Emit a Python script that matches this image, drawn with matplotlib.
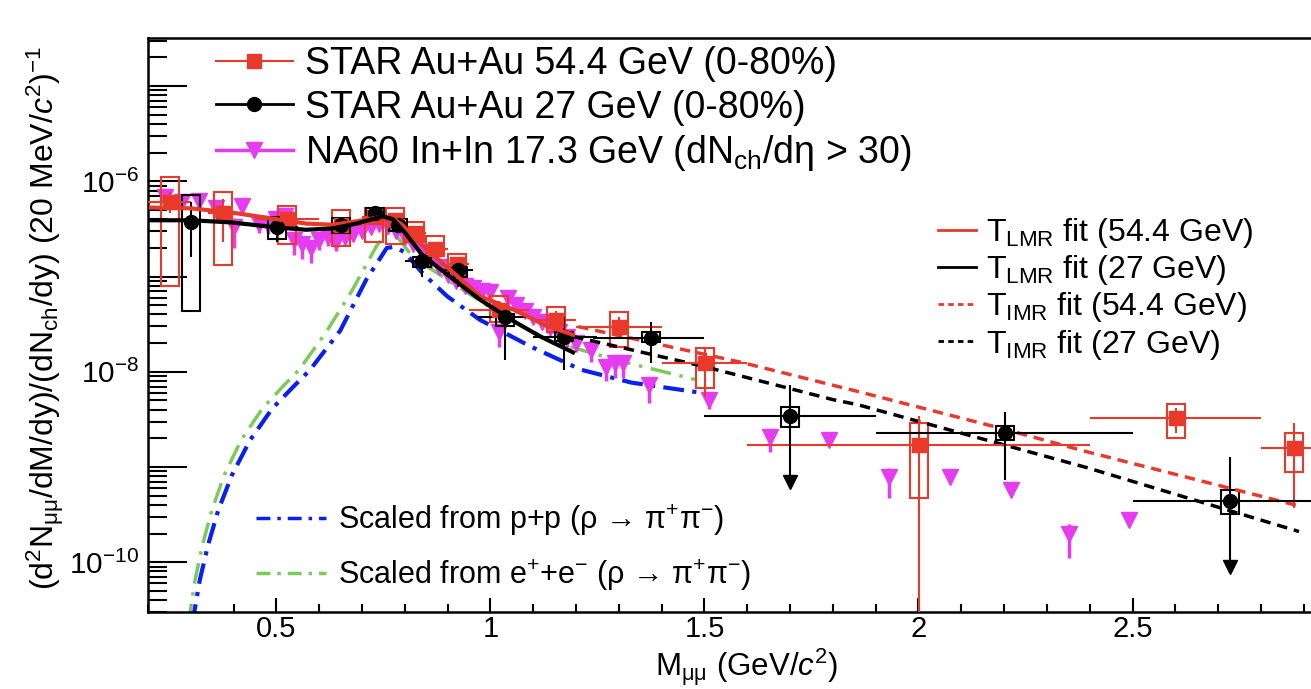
import numpy as np
import matplotlib
matplotlib.use("Agg")
import matplotlib.pyplot as plt
from matplotlib.patches import Rectangle
from matplotlib.lines import Line2D
from matplotlib.ticker import FixedLocator, FuncFormatter, NullFormatter, MultipleLocator

plt.rcParams['font.family'] = ['Liberation Sans', 'DejaVu Sans']
plt.rcParams['mathtext.fontset'] = 'custom'
plt.rcParams['mathtext.rm'] = 'Liberation Sans'
plt.rcParams['mathtext.it'] = 'Liberation Sans:italic'
plt.rcParams['mathtext.bf'] = 'Liberation Sans:bold'
plt.rcParams['mathtext.sf'] = 'Liberation Sans'
plt.rcParams['mathtext.default'] = 'rm'

RED = '#e8392b'
BLACK = '#000000'
MAG = '#e53cf0'
BLUE = '#0a20f0'
GREEN = '#7acb5a'

# ---------------- data ----------------
# STAR Au+Au 54.4 GeV (0-80%)
s54_m = [0.252, 0.376, 0.525, 0.652, 0.727, 0.776, 0.824, 0.871, 0.922, 1.019, 1.153, 1.300, 1.501, 2.002, 2.602, 2.878]
s54_y = [6.0e-7, 4.7e-7, 4.0e-7, 3.5e-7, 4.2e-7, 3.9e-7, 2.9e-7, 1.97e-7, 1.34e-7, 4.5e-8, 3.5e-8, 2.98e-8, 1.24e-8, 1.7e-9, 3.3e-9, 1.58e-9]
s54_stat_lo = [4.6e-7, 2.3e-7, 3.3e-7, 3.0e-7, 3.7e-7, 3.4e-7, 2.5e-7, 1.7e-7, 1.12e-7, 3.6e-8, 2.8e-8, 2.35e-8, 5.4e-9, 1e-13, 2.3e-9, 3.7e-10]
s54_stat_hi = [7.8e-7, 6.5e-7, 4.8e-7, 4.0e-7, 4.8e-7, 4.4e-7, 3.3e-7, 2.3e-7, 1.6e-7, 5.6e-8, 4.3e-8, 3.8e-8, 1.83e-8, 3.4e-9, 4.2e-9, 2.9e-9]
s54_bin_lo = [0.20, 0.34, 0.45, 0.60, 0.70, 0.75, 0.80, 0.85, 0.90, 0.95, 1.10, 1.20, 1.40, 1.60, 2.40, 2.80]
s54_bin_hi = [0.30, 0.42, 0.60, 0.70, 0.75, 0.80, 0.85, 0.90, 0.95, 1.09, 1.20, 1.40, 1.60, 2.40, 2.80, 3.00]
s54_sys_lo = [7.9e-8, 1.31e-7, 2.2e-7, 2.1e-7, 2.3e-7, 2.2e-7, 2.33e-7, 1.63e-7, 1.0e-7, 3.36e-8, 2.6e-8, 1.8e-8, 6.8e-9, 4.7e-10, 2.0e-9, 8.9e-10]
s54_sys_hi = [1.10e-6, 7.7e-7, 5.5e-7, 5.0e-7, 5.3e-7, 5.2e-7, 3.7e-7, 2.64e-7, 1.71e-7, 6.2e-8, 4.8e-8, 4.2e-8, 1.79e-8, 2.9e-9, 4.6e-9, 2.28e-9]

# STAR Au+Au 27 GeV (0-80%)
s27_m = [0.301, 0.501, 0.652, 0.731, 0.783, 0.840, 0.925, 1.033, 1.172, 1.376, 1.700, 2.202, 2.727]
s27_y = [3.7e-7, 3.28e-7, 3.44e-7, 4.6e-7, 3.5e-7, 1.44e-7, 1.16e-7, 3.8e-8, 2.33e-8, 2.28e-8, 3.44e-9, 2.28e-9, 4.4e-10]
s27_stat_lo = [1.6e-7, 2.3e-7, 2.9e-7, 4.1e-7, 3.0e-7, 9.8e-8, 7.7e-8, 1.34e-8, 1.05e-8, 1.24e-8, 7.0e-10, 7.3e-10, 8.9e-11]
s27_stat_hi = [6.0e-7, 4.3e-7, 4.0e-7, 5.2e-7, 4.0e-7, 1.7e-7, 1.44e-7, 5.3e-8, 3.8e-8, 3.3e-8, 7.3e-9, 3.8e-9, 1.28e-9]
s27_bin_lo = [0.301, 0.46, 0.652, 0.731, 0.76, 0.80, 0.89, 0.97, 1.10, 1.24, 1.50, 1.90, 2.50]
s27_bin_hi = [0.301, 0.55, 0.652, 0.731, 0.80, 0.86, 0.96, 1.09, 1.25, 1.50, 1.90, 2.50, 3.00]
s27_sys_lo = [4.3e-8, 2.45e-7, 2.9e-7, 4.0e-7, 3.0e-7, 1.27e-7, 1.0e-7, 3.06e-8, 2.1e-8, 2.03e-8, 2.6e-9, 1.9e-9, 3.2e-10]
s27_sys_hi = [7.1e-7, 4.2e-7, 4.1e-7, 5.2e-7, 4.0e-7, 1.6e-7, 1.27e-7, 4.0e-8, 2.6e-8, 2.6e-8, 4.3e-9, 2.7e-9, 5.7e-10]
s27_upper_limit = [False, False, False, False, False, False, False, False, False, False, True, False, True]

# NA60 In+In 17.3 GeV (dNch/deta > 30)
na60_m = [0.24, 0.28, 0.32, 0.36, 0.40, 0.42, 0.46, 0.48, 0.50, 0.52, 0.54, 0.56, 0.58, 0.60, 0.62,
          0.64, 0.66, 0.68, 0.70, 0.72, 0.74, 0.76, 0.78, 0.80, 0.82, 0.84, 0.86, 0.88, 0.90, 0.92,
          0.94, 0.96, 0.98, 1.00, 1.02, 1.04, 1.06, 1.08, 1.10, 1.12, 1.14, 1.16, 1.18, 1.20, 1.235,
          1.27, 1.29, 1.31, 1.37, 1.51, 1.654, 1.791, 1.932, 2.073, 2.216, 2.351, 2.492]
na60_y = [6.9e-7, 6.0e-7, 6.2e-7, 5.2e-7, 3.3e-7, 5.5e-7, 3.6e-7, 3.5e-7, 4.0e-7, 4.3e-7, 2.4e-7, 2.2e-7, 2.0e-7, 2.4e-7, 2.6e-7,
          2.3e-7, 2.6e-7, 2.8e-7, 3.0e-7, 3.3e-7, 3.6e-7, 3.4e-7, 3.0e-7, 2.6e-7, 2.2e-7, 1.8e-7, 1.5e-7, 1.25e-7, 1.05e-7, 9.0e-8,
          8.0e-8, 7.5e-8, 7.0e-8, 6.8e-8, 2.6e-8, 6.0e-8, 5.0e-8, 4.3e-8, 3.8e-8, 3.3e-8, 2.9e-8, 2.6e-8, 2.3e-8, 2.0e-8, 1.7e-8,
          1.13e-8, 1.24e-8, 1.24e-8, 7.3e-9, 5.1e-9, 2.07e-9, 1.92e-9, 7.9e-10, 7.9e-10, 5.7e-10, 2.0e-10, 2.8e-10]
na60_relerr = [0.15, 0.15, 0.2, 0.2, 0.4, 0.2, 0.2, 0.2, 0.15, 0.15, 0.3, 0.3, 0.3, 0.2, 0.2,
               0.2, 0.15, 0.15, 0.1, 0.1, 0.1, 0.1, 0.1, 0.1, 0.1, 0.1, 0.1, 0.1, 0.1, 0.1,
               0.1, 0.1, 0.1, 0.1, 0.3, 0.1, 0.1, 0.1, 0.15, 0.15, 0.15, 0.2, 0.2, 0.2, 0.25,
               0.3, 0.3, 0.3, 0.35, 0.2, 0.3, 0.1, 0.4, 0.1, 0.1, 0.45, 0.1]

# fits
lmr54_m = [0.207, 0.301, 0.395, 0.501, 0.569, 0.631, 0.687, 0.741, 0.772, 0.795, 0.819, 0.859, 0.913, 0.976, 1.054, 1.134, 1.193]
lmr54_y = [5.3e-7, 5.2e-7, 4.7e-7, 4.0e-7, 3.6e-7, 3.5e-7, 3.8e-7, 4.2e-7, 4.1e-7, 3.45e-7, 2.64e-7, 1.8e-7, 1.1e-7, 6.2e-8, 4.5e-8, 3.0e-8, 2.45e-8]
lmr27_m = [0.207, 0.301, 0.395, 0.501, 0.569, 0.631, 0.687, 0.748, 0.772, 0.800, 0.840, 0.899, 0.976, 1.054, 1.118, 1.193]
lmr27_y = [3.9e-7, 3.9e-7, 3.7e-7, 3.28e-7, 3.1e-7, 3.2e-7, 3.6e-7, 4.3e-7, 4.0e-7, 2.9e-7, 1.7e-7, 1.05e-7, 5.7e-8, 3.4e-8, 2.33e-8, 1.6e-8]
imr54_m = [1.205, 1.588, 1.859, 2.200, 2.395, 2.889]
imr54_y = [2.98e-8, 1.25e-8, 6.2e-9, 2.5e-9, 1.44e-9, 3.9e-10]
imr27_m = [1.193, 1.494, 1.800, 1.859, 2.395, 2.889]
imr27_y = [2.35e-8, 1.15e-8, 5.1e-9, 4.5e-9, 9.8e-10, 2.1e-10]

# scaled rho contributions
pp_m = [0.303, 0.321, 0.340, 0.364, 0.396, 0.438, 0.490, 0.540, 0.578, 0.649, 0.710, 0.758, 0.775, 0.800, 0.840, 0.899, 0.976, 1.094, 1.212, 1.329, 1.494]
pp_y = [2.2e-11, 6.5e-11, 1.5e-10, 3.5e-10, 8.2e-10, 1.9e-9, 4.1e-9, 7.0e-9, 1.04e-8, 2.7e-8, 9.3e-8, 2.0e-7, 2.05e-7, 1.8e-7, 1.1e-7, 6.2e-8, 3.5e-8, 1.84e-8, 1.05e-8, 7.7e-9, 6.0e-9]
ee_m = [0.294, 0.310, 0.327, 0.349, 0.378, 0.417, 0.467, 0.515, 0.553, 0.616, 0.678, 0.734, 0.760, 0.780, 0.819, 0.899, 1.017, 1.134, 1.290, 1.478]
ee_y = [2.2e-11, 6.5e-11, 1.5e-10, 3.5e-10, 8.2e-10, 1.9e-9, 4.1e-9, 7.0e-9, 1.05e-8, 2.6e-8, 7.3e-8, 2.1e-7, 2.9e-7, 2.7e-7, 1.6e-7, 9.3e-8, 4.2e-8, 2.15e-8, 1.34e-8, 8.3e-9]

x_ticks = [0.5, 1.0, 1.5, 2.0, 2.5]
x_ticklabels = ['0.5', '1', '1.5', '2', '2.5']

# ---------------- figure ----------------
W, H = 1311, 689
fig = plt.figure(figsize=(W / 100, H / 100), dpi=100)
L, R, T, B = 148, 1311, 38, 612
ax = fig.add_axes([L / W, 1 - B / H, (R - L) / W, (B - T) / H])
ax.set_yscale('log')
ax.set_xlim(0.2, 2.917)
ax.set_ylim(3.0e-11, 3.2e-5)

for s in ['left', 'bottom', 'top']:
    ax.spines[s].set_linewidth(1.8)
ax.spines['right'].set_visible(False)

ax.xaxis.set_major_locator(FixedLocator(x_ticks))
ax.xaxis.set_major_formatter(FuncFormatter(lambda v, p: x_ticklabels[x_ticks.index(round(v, 2))] if round(v, 2) in x_ticks else ''))
ax.xaxis.set_minor_locator(MultipleLocator(0.1))
decades = [10.0 ** e for e in range(-11, -3)]
ax.yaxis.set_major_locator(FixedLocator(decades))
def yfmt(v, p):
    e = int(round(np.log10(v)))
    return r'$10^{%d}$' % e if e % 2 == 0 else ''
ax.yaxis.set_major_formatter(FuncFormatter(yfmt))
ax.yaxis.set_minor_locator(FixedLocator([k * 10.0 ** e for e in range(-11, -4) for k in range(2, 10)]))
ax.yaxis.set_minor_formatter(NullFormatter())
ax.tick_params(axis='x', which='major', direction='in', length=10, width=1.5, labelsize=21, pad=2, top=False)
ax.tick_params(axis='x', which='minor', direction='in', length=5.5, width=1.5, top=False)
ax.tick_params(axis='y', which='major', direction='in', length=28, width=1.5, labelsize=21.5, pad=6, right=False)
ax.tick_params(axis='y', which='minor', direction='in', length=14, width=1.5, right=False)

# scaled rho curves
ax.plot(ee_m, ee_y, color=GREEN, lw=2.5, dashes=(6, 2.5, 1, 2.5), zorder=2)
ax.plot(pp_m, pp_y, color=BLUE, lw=3, dashes=(5, 2, 1, 2), zorder=2)

# NA60
na60_err = [np.array(na60_y) * np.array(na60_relerr), np.array(na60_y) * np.array(na60_relerr) * 0.6]
ax.errorbar(na60_m, na60_y, yerr=na60_err, fmt='v', color=MAG, ms=11, elinewidth=2.5, capsize=0, zorder=3)

# systematic boxes
BOX_W = 0.042
for m, lo, hi in zip(s54_m, s54_sys_lo, s54_sys_hi):
    ax.add_patch(Rectangle((m - BOX_W / 2, lo), BOX_W, hi - lo, fill=False, ec=RED, lw=1.5, zorder=4))
for m, lo, hi in zip(s27_m, s27_sys_lo, s27_sys_hi):
    ax.add_patch(Rectangle((m - BOX_W / 2, lo), BOX_W, hi - lo, fill=False, ec=BLACK, lw=1.5, zorder=4))

# STAR 54.4
s54m = np.array(s54_m); s54y = np.array(s54_y)
ax.errorbar(s54m, s54y,
            xerr=[s54m - np.array(s54_bin_lo), np.array(s54_bin_hi) - s54m],
            yerr=[s54y - np.array(s54_stat_lo), np.array(s54_stat_hi) - s54y],
            fmt='s', color=RED, ms=10, elinewidth=1.5, capsize=0, zorder=6)
# STAR 27
s27m = np.array(s27_m); s27y = np.array(s27_y)
ax.errorbar(s27m, s27y,
            xerr=[s27m - np.array(s27_bin_lo), np.array(s27_bin_hi) - s27m],
            yerr=[s27y - np.array(s27_stat_lo), np.array(s27_stat_hi) - s27y],
            fmt='o', color=BLACK, ms=10, elinewidth=1.5, capsize=0, zorder=6)
ul = np.array(s27_upper_limit)
ax.plot(s27m[ul], np.array(s27_stat_lo)[ul], 'v', color=BLACK, ms=10, zorder=6)

# fits
ax.plot(lmr54_m, lmr54_y, color=RED, lw=3, zorder=7)
ax.plot(lmr27_m, lmr27_y, color=BLACK, lw=3, zorder=7)
ax.plot(imr54_m, imr54_y, color=RED, lw=2.5, dashes=(3, 2), zorder=5)
ax.plot(imr27_m, imr27_y, color=BLACK, lw=2.5, dashes=(3, 2), zorder=5)

# legends
h1 = [Line2D([0], [0], color=RED, lw=1.5, marker='s', ms=10),
      Line2D([0], [0], color=BLACK, lw=2, marker='o', ms=10),
      Line2D([0], [0], color=MAG, lw=2.5, marker='v', ms=11)]
l1 = ax.legend(h1, ['STAR Au+Au 54.4 GeV (0-80%)', 'STAR Au+Au 27 GeV (0-80%)',
                    r'NA60 In+In 17.3 GeV (dN$_{\rm ch}$/d$\eta$ > 30)'],
               loc='upper left', bbox_to_anchor=(216 / W, 1 - 46 / H), bbox_transform=fig.transFigure,
               frameon=False, fontsize=27, handlelength=2.05, handletextpad=0.33, labelspacing=0.2,
               borderpad=0, borderaxespad=0, numpoints=1)
ax.add_artist(l1)
h2 = [Line2D([0], [0], color=RED, lw=2),
      Line2D([0], [0], color=BLACK, lw=2),
      Line2D([0], [0], color=RED, lw=2, dashes=(2, 1.5)),
      Line2D([0], [0], color=BLACK, lw=2, dashes=(2, 1.5))]
l2 = ax.legend(h2, [r'T$_{\rm LMR}$ fit (54.4 GeV)', r'T$_{\rm LMR}$ fit (27 GeV)',
                    r'T$_{\rm IMR}$ fit (54.4 GeV)', r'T$_{\rm IMR}$ fit (27 GeV)'],
               loc='upper left', bbox_to_anchor=(938 / W, 1 - 216 / H), bbox_transform=fig.transFigure,
               frameon=False, fontsize=23, handlelength=1.2, handletextpad=0.3, labelspacing=0.1,
               borderpad=0, borderaxespad=0)
ax.add_artist(l2)
h3 = [Line2D([0], [0], color=BLUE, lw=2.5, dashes=(4, 2, 1, 2)),
      Line2D([0], [0], color=GREEN, lw=2.5, dashes=(4, 2, 1, 2))]
l3 = ax.legend(h3, ['Scaled from p+p (ρ → π$^{+}$π$^{-}$)',
                    'Scaled from e$^{+}$+e$^{-}$ (ρ → π$^{+}$π$^{-}$)'],
               loc='upper left', bbox_to_anchor=(256 / W, 1 - 502 / H), bbox_transform=fig.transFigure,
               frameon=False, fontsize=22, handlelength=2.3, handletextpad=0.4, labelspacing=0.65,
               borderpad=0, borderaxespad=0)

fig.text(838 / W, 1 / H, r'M$_{\mu\mu}$ (GeV/$\mathit{c}^{2}$)', ha='right', va='bottom', fontsize=22.5)
fig.text(45 / W, 1 - 318 / H, r'(d$^{2}$N$_{\mu\mu}$/dM/dy)/(dN$_{\rm ch}$/dy) (20 MeV/$\mathit{c}^{2}$)$^{-1}$',
         ha='center', va='center', rotation=90, fontsize=23)

fig.savefig('out.png', dpi=100)
